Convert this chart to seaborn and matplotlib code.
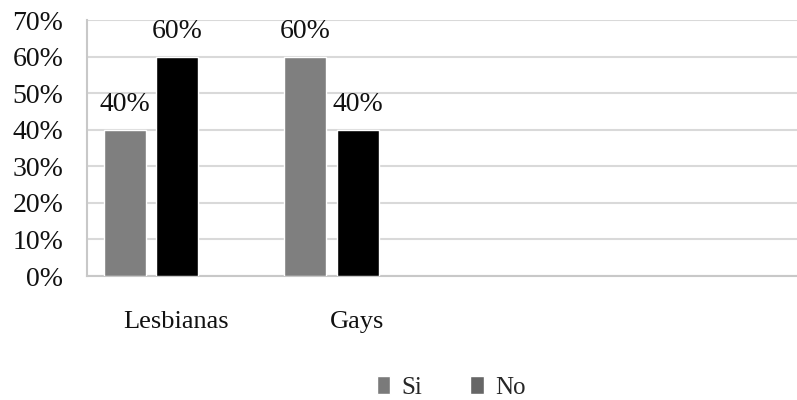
import numpy as np
import pandas as pd
import seaborn as sns
import matplotlib
matplotlib.use("Agg")
import matplotlib.pyplot as plt
from matplotlib.patches import Patch
from matplotlib.ticker import PercentFormatter

# Survey answers by group
categories = ["Lesbianas", "Gays"]
series_names = ["Si", "No"]
si_values = [0.40, 0.60]
no_values = [0.60, 0.40]

df = pd.DataFrame({
    "grupo": categories * 2,
    "respuesta": [series_names[0]] * len(categories) + [series_names[1]] * len(categories),
    "valor": si_values + no_values,
})

sns.set_theme(style="white")
plt.rcParams["font.family"] = ["Liberation Serif", "DejaVu Serif"]

fig = plt.figure(figsize=(7.97, 4.0), dpi=100)
ax = fig.add_axes([87 / 797, 1 - 276 / 400, 1 - 87 / 797, (276 - 20) / 400])

bar_colors = {"Si": "#7f7f7f", "No": "#000000"}
sns.barplot(data=df, x="grupo", y="valor", hue="respuesta", order=categories,
            hue_order=series_names, palette=bar_colors, width=0.58, gap=0.2,
            saturation=1, ax=ax, legend=False, zorder=3)

for container in ax.containers:
    ax.bar_label(container, fmt="{:.0%}", padding=9, fontsize=20, color="#111111")

ax.set_ylim(0, 0.7)
ax.set_yticks(np.arange(0, 0.71, 0.1))
ax.yaxis.set_major_formatter(PercentFormatter(1.0, decimals=0))
ax.set_xlim(-0.355, 3.58)
ax.set_xticks(np.arange(len(categories)) + 0.14)
ax.set_xticklabels(categories)

ax.grid(axis="y", color="#d9d9d9", linewidth=1.5, zorder=0)
ax.grid(axis="x", visible=False)
for side in ["top", "right"]:
    ax.spines[side].set_visible(False)
for side in ["left", "bottom"]:
    ax.spines[side].set_color("#c8c8c8")
    ax.spines[side].set_linewidth(1.5)

ax.tick_params(axis="y", length=0, pad=17, labelsize=20, labelcolor="#111111")
ax.tick_params(axis="x", length=0, pad=25, labelsize=19, labelcolor="#111111")
ax.set_xlabel("")
ax.set_ylabel("")

handles = [Patch(facecolor="#7a7a7a", label="Si"), Patch(facecolor="#666666", label="No")]
fig.legend(handles=handles, loc="center", bbox_to_anchor=(0.566, 0.032), ncol=2,
           frameon=False, fontsize=18, handlelength=0.55, handleheight=0.75,
           handletextpad=0.45, columnspacing=1.9)

fig.savefig("out.png", dpi=100)
